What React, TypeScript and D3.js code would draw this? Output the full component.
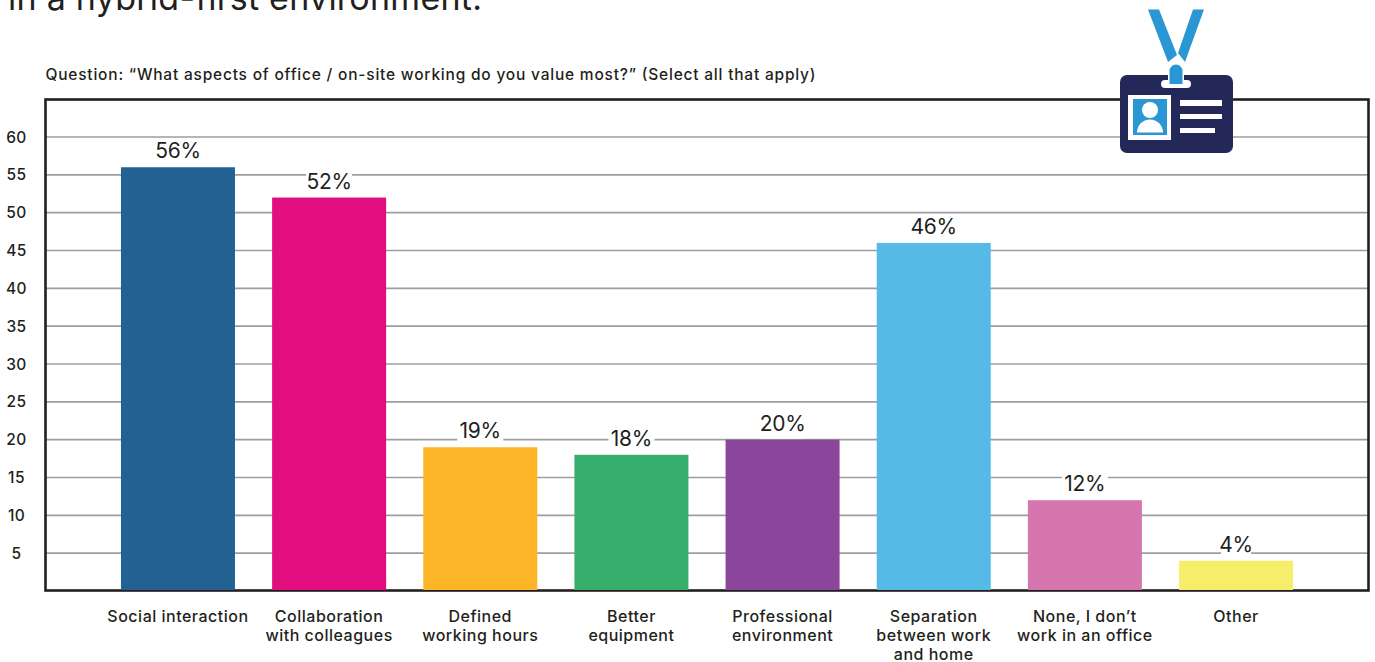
import React from "react";
import * as d3 from "d3";

const categories = [
  ["Social interaction"],
  ["Collaboration", "with colleagues"],
  ["Defined", "working hours"],
  ["Better", "equipment"],
  ["Professional", "environment"],
  ["Separation", "between work", "and home"],
  ["None, I don’t", "work in an office"],
  ["Other"],
];
const values = [56, 52, 19, 18, 20, 46, 12, 4];
const barColors = ["#236192", "#e20e80", "#fdb528", "#36af6d", "#8b469b", "#55bbe6", "#d676ae", "#f6ee6a"];
const yTicks = [5, 10, 15, 20, 25, 30, 35, 40, 45, 50, 55, 60];
const headline = "in a hybrid-first environment.";
const question = "Question: “What aspects of office / on-site working do you value most?” (Select all that apply)";

const WIDTH = 1375;
const HEIGHT = 662;
const FONT = "Inter, 'Open Sans', sans-serif";
const INK = "#231f20";

const x = d3.scaleBand<number>().domain(d3.range(values.length)).range([102.4, 1311.6]).paddingInner(0.2457).paddingOuter(0.1228);
const y = d3.scaleLinear().domain([0, 60]).range([591, 137]);

// Staff badge hanging from a lanyard, overlapping the top right of the frame.
function Badge() {
  return (
    <g>
      <path d="M1148 9.5H1159L1177 55L1168 62Z" fill="#2a96d4" />
      <path d="M1204 9.5H1193L1178 53L1185 62Z" fill="#2a96d4" />
      <rect x="1120" y="75" width="113" height="78" rx="7" fill="#232859" />
      <rect x="1161" y="80" width="30" height="8" rx="4" fill="#fff" />
      <path d="M1168 85V71a8 8 0 0 1 16 0V85Z" fill="#fff" />
      <path d="M1169.5 84V71a6.5 6.5 0 0 1 13 0V84Z" fill="#2a96d4" />
      <rect x="1128" y="95" width="43" height="45" fill="#fff" />
      <rect x="1133" y="99" width="34" height="36" fill="#2a96d4" />
      <circle cx="1150" cy="110" r="8" fill="#fff" />
      <path d="M1137 132.500a13 13 0 0 1 26 0Z" fill="#fff" />
      <rect x="1180" y="100" width="42" height="6" fill="#fff" />
      <rect x="1180" y="114" width="42" height="5" fill="#fff" />
      <rect x="1180" y="128" width="35" height="5" fill="#fff" />
    </g>
  );
}

export default function App() {
  return (
    <svg
      width={WIDTH}
      height={HEIGHT}
      viewBox={`0 0 ${WIDTH} ${HEIGHT}`}
      style={{ position: "absolute", left: 0, top: 0, background: "#fff" }}
      fontFamily={FONT}
    >
      <text x={8} y={10} fontSize={34} fill={INK} textLength={474} lengthAdjust="spacing">{headline}</text>
      <text x={45.5} y={80} fontSize={15.5} fontWeight={500} fill={INK} textLength={770} lengthAdjust="spacing">{question}</text>

      {yTicks.map((t) => (
        <g key={t}>
          <line x1={46} x2={1368} y1={y(t)} y2={y(t)} stroke="#9d9ea1" strokeWidth={1.6} />
          <text x={16.5} y={y(t) + 5.5} fontSize={15.5} fontWeight={500} letterSpacing={0.4} fill={INK} textAnchor="middle">{t}</text>
        </g>
      ))}

      <rect x={45.5} y={99.5} width={1323} height={491} fill="none" stroke={INK} strokeWidth={2.6} />

      {values.map((v, i) => {
        const cx = x(i)! + x.bandwidth() / 2;
        // The white plate behind a value interrupts the gridline it sits on.
        const plate = String(v).length * 16 + 14;
        return (
          <g key={i}>
            <rect x={x(i)} y={y(v)} width={x.bandwidth()} height={y(0) - y(v) - 1} fill={barColors[i]} />
            <rect x={cx - plate / 2} y={y(v) - 27} width={plate} height={26} fill="#fff" />
            <text x={cx} y={y(v) - 9} fontSize={21} letterSpacing={-0.3} fill={INK} textAnchor="middle">{v}%</text>
            {categories[i].map((line, k) => (
              <text key={k} x={cx} y={622 + k * 19} fontSize={16} fontWeight={500} letterSpacing={0.5} fill={INK} textAnchor="middle">{line}</text>
            ))}
          </g>
        );
      })}

      <Badge />
    </svg>
  );
}
